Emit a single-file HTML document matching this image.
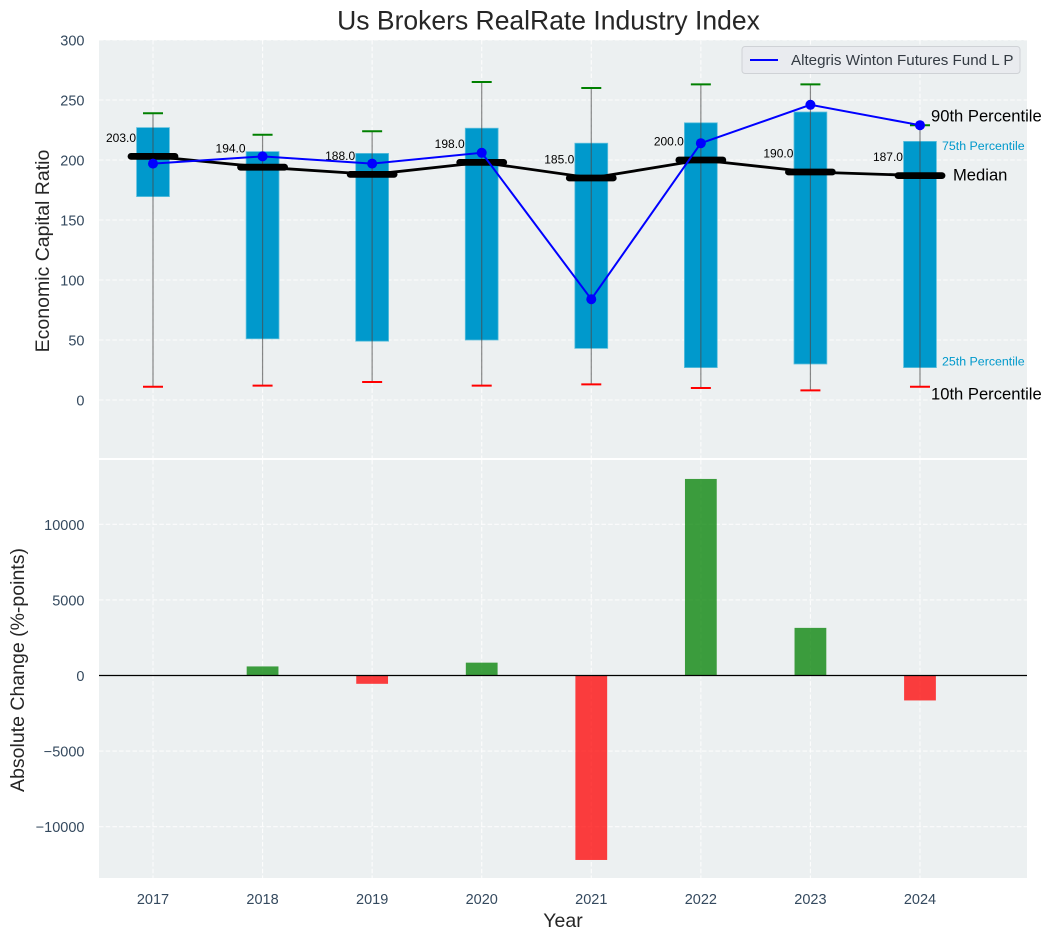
<!DOCTYPE html>
<html lang="en">
<head>
<meta charset="utf-8">
<title>Us Brokers RealRate Industry Index</title>
<style>
html,body{margin:0;padding:0;background:#fff;}
svg{display:block;font-family:"Liberation Sans",Arial,sans-serif;}
</style>
</head>
<body>
<svg id="chart" xmlns="http://www.w3.org/2000/svg" width="1051" height="940" viewBox="0 0 1051 940"></svg>
<script>
const years = [2017, 2018, 2019, 2020, 2021, 2022, 2023, 2024];
const p90 = [239, 221, 224, 265, 260, 263, 263, 229];
const p75 = [227, 207, 205.5, 226.5, 214, 231, 240, 215.5];
const medians = [203, 194, 188, 198, 185, 200, 190, 187];
const p25 = [169.5, 51, 49, 50, 43, 27, 30, 27];
const p10 = [11, 12, 15, 12, 13, 10, 8, 11];
const fund = [197, 203, 197, 206, 84, 214, 246, 229];
const changes = [null, 600, -550, 850, -12200, 13000, 3150, -1650];
const topTicks = [0, 50, 100, 150, 200, 250, 300];
const bottomTicks = [-10000, -5000, 0, 5000, 10000];
const fundName = 'Altegris Winton Futures Fund L P';

const svg = document.getElementById('chart');
const NS = 'http://www.w3.org/2000/svg';
const left = 99, right = 1027;
const top1 = 40, bot1 = 458, top2 = 460, bot2 = 878;
const xS = v => 153 + (v - 2017) * 109.57;
const yT = v => 400 - v * 1.2;
const yB = v => 675.5 - v * 0.01512;
const unit = 109.57;

function make(tag, attrs, text) {
  const el = document.createElementNS(NS, tag);
  for (const k in attrs) el.setAttribute(k, attrs[k]);
  if (text !== undefined) el.textContent = text;
  svg.appendChild(el);
  return el;
}
function fmtTick(v) { return v < 0 ? '\u2212' + Math.abs(v) : String(v); }

let el;
el = make('rect', {x: left, y: top1, width: right - left, height: bot1 - top1, fill: '#ecf0f1'});


el = make('rect', {x: left, y: top2, width: right - left, height: bot2 - top2, fill: '#ecf0f1'});



const gridStyle = {stroke: '#ffffff', 'stroke-width': 1.1, 'stroke-dasharray': '4.5 2.2', opacity: 0.85};
topTicks.forEach(t => {
  const g = make('line', Object.assign({x1: left, x2: right, y1: yT(t), y2: yT(t)}, gridStyle));
  
  
  const l = make('text', {x: 84.5, y: yT(t) + 5.5, 'text-anchor': 'end', 'font-size': 14.5, fill: '#34495e'}, fmtTick(t));
  
  
});
bottomTicks.forEach(t => {
  const g = make('line', Object.assign({x1: left, x2: right, y1: yB(t), y2: yB(t)}, gridStyle));
  
  
  const l = make('text', {x: 84.5, y: yB(t) + 5.5, 'text-anchor': 'end', 'font-size': 14.5, fill: '#34495e'}, fmtTick(t));
  
  
});
years.forEach(y => {
  const g1 = make('line', Object.assign({x1: xS(y), x2: xS(y), y1: top1, y2: bot1}, gridStyle));
  
  
  const g2 = make('line', Object.assign({x1: xS(y), x2: xS(y), y1: top2, y2: bot2}, gridStyle));
  
  
  const l = make('text', {x: xS(y), y: 904, 'text-anchor': 'middle', 'font-size': 14.5, fill: '#34495e'}, String(y));
  
  
});

/* boxes */
years.forEach((y, i) => {
  const w = unit * 0.3;
  const b = make('rect', {x: xS(y) - w / 2, y: yT(p75[i]), width: w, height: yT(p25[i]) - yT(p75[i]), fill: '#0099cc', stroke: '#5fc0dd', 'stroke-width': 0.8});
  
  
});
/* whiskers */
years.forEach((y, i) => {
  const v = make('line', {x1: xS(y), x2: xS(y), y1: yT(p90[i]), y2: yT(p10[i]), stroke: '#4a4a4a', 'stroke-width': 1.2, 'stroke-opacity': 0.65});
  
  
  const hi = make('line', {x1: xS(y) - 10, x2: xS(y) + 10, y1: yT(p90[i]), y2: yT(p90[i]), stroke: '#008000', 'stroke-width': 2});
  
  
  const lo = make('line', {x1: xS(y) - 10, x2: xS(y) + 10, y1: yT(p10[i]), y2: yT(p10[i]), stroke: '#ff0000', 'stroke-width': 2});
  
  
});
/* median line */
el = make('polyline', {points: years.map((y, i) => xS(y) + ',' + yT(medians[i])).join(' '), fill: 'none', stroke: '#000', 'stroke-width': 2.8});


years.forEach((y, i) => {
  const m = make('line', {x1: xS(y) - 22, x2: xS(y) + 22, y1: yT(medians[i]), y2: yT(medians[i]), stroke: '#000', 'stroke-width': 6.8, 'stroke-linecap': 'round'});
  
  
  const t = make('text', {x: xS(y) - 17, y: yT(medians[i]) - 14.5, 'text-anchor': 'end', 'font-size': 12, fill: '#000'}, medians[i].toFixed(1));
  
  
});
/* fund line */
el = make('polyline', {points: years.map((y, i) => xS(y) + ',' + yT(fund[i])).join(' '), fill: 'none', stroke: '#0000ff', 'stroke-width': 2});


years.forEach((y, i) => {
  const c = make('circle', {cx: xS(y), cy: yT(fund[i]), r: 5, fill: '#0000ff'});
  
  
});

/* percentile annotations, anchored on the final year */
const lastX = xS(years[years.length - 1]);
const lastI = years.length - 1;
el = make('text', {x: lastX + 11, y: yT(p90[lastI]) - 3.5, 'font-size': 16.6, fill: '#000'}, '90th Percentile');


el = make('text', {x: lastX + 22, y: yT(p75[lastI]) + 8.7, 'font-size': 12.4, fill: '#0099cc'}, '75th Percentile');


el = make('text', {x: lastX + 33, y: yT(medians[lastI]) + 5, 'font-size': 16.6, fill: '#000'}, 'Median');


el = make('text', {x: lastX + 22, y: yT(p25[lastI]) - 2.2, 'font-size': 12.4, fill: '#0099cc'}, '25th Percentile');


el = make('text', {x: lastX + 11, y: yT(p10[lastI]) + 12.5, 'font-size': 16.6, fill: '#000'}, '10th Percentile');



/* change bars */
years.forEach((y, i) => {
  if (changes[i] === null) return;
  const w = unit * 0.29;
  const v = changes[i];
  const b = make('rect', {x: xS(y) - w / 2, y: Math.min(yB(v), yB(0)), width: w, height: Math.abs(yB(v) - yB(0)), fill: v >= 0 ? '#008000' : '#ff0000', 'fill-opacity': 0.75});
  
  
});
el = make('line', {x1: left, x2: right, y1: yB(0), y2: yB(0), stroke: '#000', 'stroke-width': 1.2});



/* legend */
el = make('rect', {x: 742, y: 46.5, width: 278, height: 27, rx: 3, fill: '#e9ebef', stroke: '#cfd2d6', 'stroke-width': 1});


el = make('line', {x1: 750, x2: 778, y1: 60, y2: 60, stroke: '#0000ff', 'stroke-width': 2});


el = make('text', {x: 791, y: 65, 'font-size': 15.15, fill: '#333a42'}, fundName);



/* titles */
el = make('text', {x: 548.5, y: 29.5, 'text-anchor': 'middle', 'font-size': 26.5, fill: '#262626'}, 'Us Brokers RealRate Industry Index');


el = make('text', {x: 563, y: 927, 'text-anchor': 'middle', 'font-size': 19.5, fill: '#262626'}, 'Year');


el = make('text', {transform: 'translate(49,251) rotate(-90)', 'text-anchor': 'middle', 'font-size': 19.5, fill: '#262626'}, 'Economic Capital Ratio');


el = make('text', {transform: 'translate(24,670) rotate(-90)', 'text-anchor': 'middle', 'font-size': 19.5, fill: '#262626'}, 'Absolute Change (%-points)');


</script>
</body>
</html>
